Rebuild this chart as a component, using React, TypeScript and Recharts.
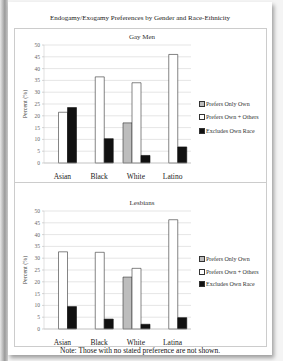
import React from "react";
import { BarChart, Bar, XAxis, YAxis, CartesianGrid } from "recharts";

const gayCategories = ["Asian", "Black", "White", "Latino"];
const gayOnlyOwn = [0, 0, 17, 0];
const gayOwnOthers = [21.5, 36.5, 34, 46];
const gayExcludes = [23.5, 10.3, 3.2, 6.8];

const lesbianCategories = ["Asian", "Black", "White", "Latina"];
const lesbianOnlyOwn = [0, 0, 22, 0];
const lesbianOwnOthers = [32.7, 32.5, 25.7, 46.3];
const lesbianExcludes = [9.5, 4.2, 2, 4.8];

const yTicks = [0, 5, 10, 15, 20, 25, 30, 35, 40, 45, 50];

const legendItems = [
  { label: "Prefers Only Own", fill: "#bdbdbd" },
  { label: "Prefers Own + Others", fill: "#ffffff" },
  { label: "Excludes Own Race", fill: "#111111" },
];

const serif = "'Liberation Serif', 'DejaVu Serif', serif";

function buildRows(cats: string[], a: number[], b: number[], c: number[]) {
  return cats.map((name, i) => ({ name, onlyOwn: a[i], ownOthers: b[i], excludes: c[i] }));
}

const Legend = ({ top, step }: { top: number; step: number }) => (
  <div style={{ position: "absolute", left: 199, top, fontFamily: serif, fontSize: 6, color: "#333" }}>
    {legendItems.map(item => (
      <div key={item.label} style={{ display: "flex", alignItems: "center", height: step }}>
        <span
          style={{
            display: "inline-block",
            width: 4,
            height: 4,
            background: item.fill,
            border: "0.6px solid #333",
            marginRight: 1,
          }}
        />
        {item.label}
      </div>
    ))}
  </div>
);

const Panel = ({ data, top, title }: { data: ReturnType<typeof buildRows>; top: number; title: string }) => (
  <div style={{ position: "absolute", left: 12, top }}>
    <BarChart
      width={255}
      height={150}
      data={data}
      margin={{ top: 15, right: 76, bottom: 0, left: 0 }}
      barCategoryGap="15%"
      barGap={0}
    >
      <text x={130} y={9} textAnchor="middle" fontFamily={serif} fontSize={7} fill="#333">
        {title}
      </text>
      <CartesianGrid vertical={false} stroke="#d4d4d4" strokeWidth={0.6} />
      <XAxis
        dataKey="name"
        height={17}
        tickLine={false}
        axisLine={{ stroke: "#bbb", strokeWidth: 0.6 }}
        tick={{ fontFamily: serif, fontSize: 7.5, fill: "#222" }}
        tickMargin={5}
      />
      <YAxis
        width={32}
        domain={[0, 50]}
        ticks={yTicks}
        interval={0}
        tickLine={{ stroke: "#bbb", strokeWidth: 0.6 }}
        tickSize={2}
        axisLine={{ stroke: "#ccc", strokeWidth: 0.6 }}
        tick={{ fontFamily: serif, fontSize: 5.5, fill: "#666" }}
        label={{
          value: "Percent (%)",
          angle: -90,
          position: "insideLeft",
          offset: 13,
          style: { fontFamily: serif, fontSize: 6, fill: "#444", textAnchor: "middle" },
        }}
      />
      <Bar dataKey="onlyOwn" fill="#bdbdbd" stroke="#333" strokeWidth={0.6} isAnimationActive={false} />
      <Bar dataKey="ownOthers" fill="#ffffff" stroke="#333" strokeWidth={0.6} isAnimationActive={false} />
      <Bar dataKey="excludes" fill="#111111" stroke="#111" strokeWidth={0.6} isAnimationActive={false} />
    </BarChart>
  </div>
);

export default function App() {
  const gay = buildRows(gayCategories, gayOnlyOwn, gayOwnOthers, gayExcludes);
  const lesbian = buildRows(lesbianCategories, lesbianOnlyOwn, lesbianOwnOthers, lesbianExcludes);
  return (
    <div
      style={{
        position: "absolute",
        left: 0,
        top: 0,
        width: 283,
        height: 361,
        background: "#f4f4f4",
        overflow: "hidden",
        fontFamily: serif,
      }}
    >
      <div
        style={{
          position: "absolute",
          left: 0,
          top: 0,
          width: 8,
          height: 361,
          background: "linear-gradient(to right, #e8e8e8, #9a9a9a 60%, #d0d0d0)",
        }}
      />
      <div
        style={{
          position: "absolute",
          left: 8,
          top: 2,
          width: 264,
          height: 353,
          background: "#fff",
          boxShadow: "2px 3px 4px rgba(0,0,0,0.35)",
        }}
      />
      <div
        style={{
          position: "absolute",
          left: 14,
          top: 28,
          width: 253,
          height: 319,
          border: "0.6px solid #ccc",
          boxSizing: "border-box",
        }}
      />
      <div style={{ position: "absolute", left: 14, top: 182, width: 253, height: 0, borderTop: "0.6px solid #ccc" }} />
      <div
        style={{
          position: "absolute",
          left: 8,
          width: 264,
          top: 14,
          textAlign: "center",
          fontSize: 7,
          color: "#222",
        }}
      >
        Endogamy/Exogamy Preferences by Gender and Race-Ethnicity
      </div>
      <Panel data={gay} top={30} title="Gay Men" />
      <Legend top={97} step={13.5} />
      <Panel data={lesbian} top={196} title="Lesbians" />
      <Legend top={253} step={12.5} />
      <div
        style={{
          position: "absolute",
          left: 8,
          width: 264,
          top: 346,
          textAlign: "center",
          fontSize: 7.5,
          color: "#111",
        }}
      >
        Note: Those with no stated preference are not shown.
      </div>
    </div>
  );
}
